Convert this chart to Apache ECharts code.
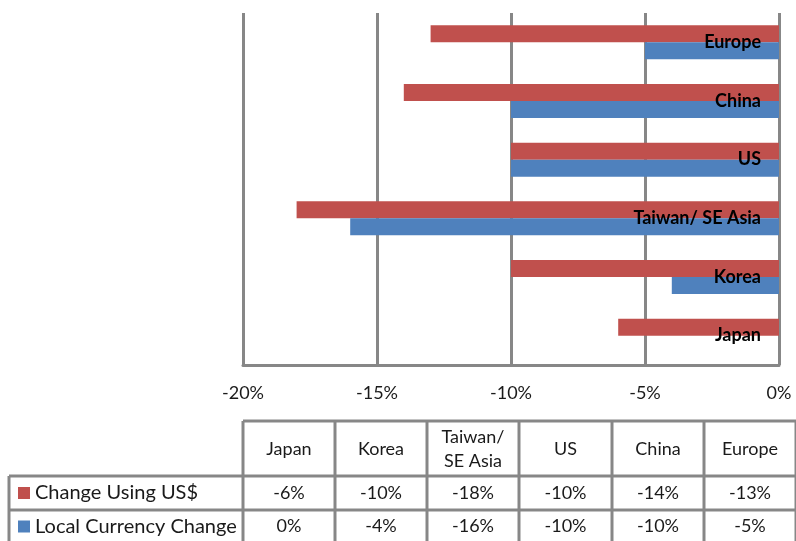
<!DOCTYPE html>
<html>
<head>
<meta charset="utf-8">
<script src="https://cdn.jsdelivr.net/npm/echarts@6/dist/echarts.min.js"></script>
<style>
  html, body { margin: 0; padding: 0; background: #fff; }
  #chart { width: 796px; height: 541px; }
</style>
</head>
<body>
<div id="chart"></div>
<script>
// ---- data ----
const categories = ['Japan', 'Korea', 'Taiwan/ SE Asia', 'US', 'China', 'Europe'];
const tableHeaders = ['Japan', 'Korea', 'Taiwan/\nSE Asia', 'US', 'China', 'Europe'];
const seriesNames = ['Change Using US$', 'Local Currency Change'];
const usdChange = [-6, -10, -18, -10, -14, -13];
const localChange = [0, -4, -16, -10, -10, -5];
const xTicks = [-20, -15, -10, -5, 0];

const RED = '#C0504D', BLUE = '#4F81BD', GRID = '#878787';
const FONT = 'Lato, "Open Sans", sans-serif';

const chart = echarts.init(document.getElementById('chart'));

// ---- table (layout) ----
const colX = [243, 335, 427, 519, 612, 704, 796];
const rowY = [421, 476, 510, 545];
const leftX = 9;
const g = [];
const lw = 3;
function hline(x1, x2, y) { g.push({ type: 'line', shape: { x1, y1: y, x2, y2: y }, style: { stroke: GRID, lineWidth: lw } }); }
function vline(x, y1, y2) { g.push({ type: 'line', shape: { x1: x, y1, x2: x, y2 }, style: { stroke: GRID, lineWidth: lw } }); }
hline(colX[0], colX[6], rowY[0]);
hline(leftX, colX[6], rowY[1]);
hline(leftX, colX[6], rowY[2]);
vline(leftX, rowY[1], rowY[3]);
colX.forEach(x => vline(x, rowY[0], rowY[3]));
function txt(text, x, y, align, size) {
  g.push({ type: 'text', x, y, style: { text, fill: '#1a1a1a', font: (size || 18) + 'px ' + FONT, align: align || 'center', verticalAlign: 'middle', lineHeight: 24 } });
}
tableHeaders.forEach((h, i) => txt(h, (colX[i] + colX[i + 1]) / 2, (rowY[0] + rowY[1]) / 2 + 1));
const rows = [usdChange, localChange];
const colors = [RED, BLUE];
rows.forEach((vals, r) => {
  const cy = (rowY[r + 1] + rowY[r + 2]) / 2 + (r === 1 ? -1 : 0);
  g.push({ type: 'rect', shape: { x: 18, y: cy - 6, width: 12, height: 12 }, style: { fill: colors[r] } });
  txt(seriesNames[r], 35, cy, 'left', 20);
  vals.forEach((v, i) => txt(v + '%', (colX[i] + colX[i + 1]) / 2, cy));
});

chart.setOption({
  animation: false,
  backgroundColor: '#fff',
  grid: { left: 243, right: 17, top: 13, bottom: 176, containLabel: false },
  xAxis: {
    type: 'value', min: xTicks[0], max: xTicks[xTicks.length - 1], interval: 5,
    axisLine: { show: true, lineStyle: { color: GRID, width: 3 } },
    axisTick: { show: false },
    splitLine: { show: true, lineStyle: { color: GRID, width: 3 } },
    axisLabel: { formatter: '{value}%', fontSize: 18, fontFamily: FONT, color: '#1a1a1a', margin: 19 }
  },
  yAxis: {
    type: 'category', data: categories, position: 'right',
    axisLine: { show: false }, axisTick: { show: false },
    axisLabel: { inside: true, margin: 18, fontSize: 18, fontWeight: 'bold', fontFamily: FONT, color: '#000' },
    z: 10
  },
  series: [
    { name: seriesNames[0], type: 'bar', data: usdChange, itemStyle: { color: RED }, barGap: '0%', barCategoryGap: '42%' },
    { name: seriesNames[1], type: 'bar', data: localChange, itemStyle: { color: BLUE }, barGap: '0%', barCategoryGap: '42%' }
  ],
  graphic: g
});
</script>
</body>
</html>
